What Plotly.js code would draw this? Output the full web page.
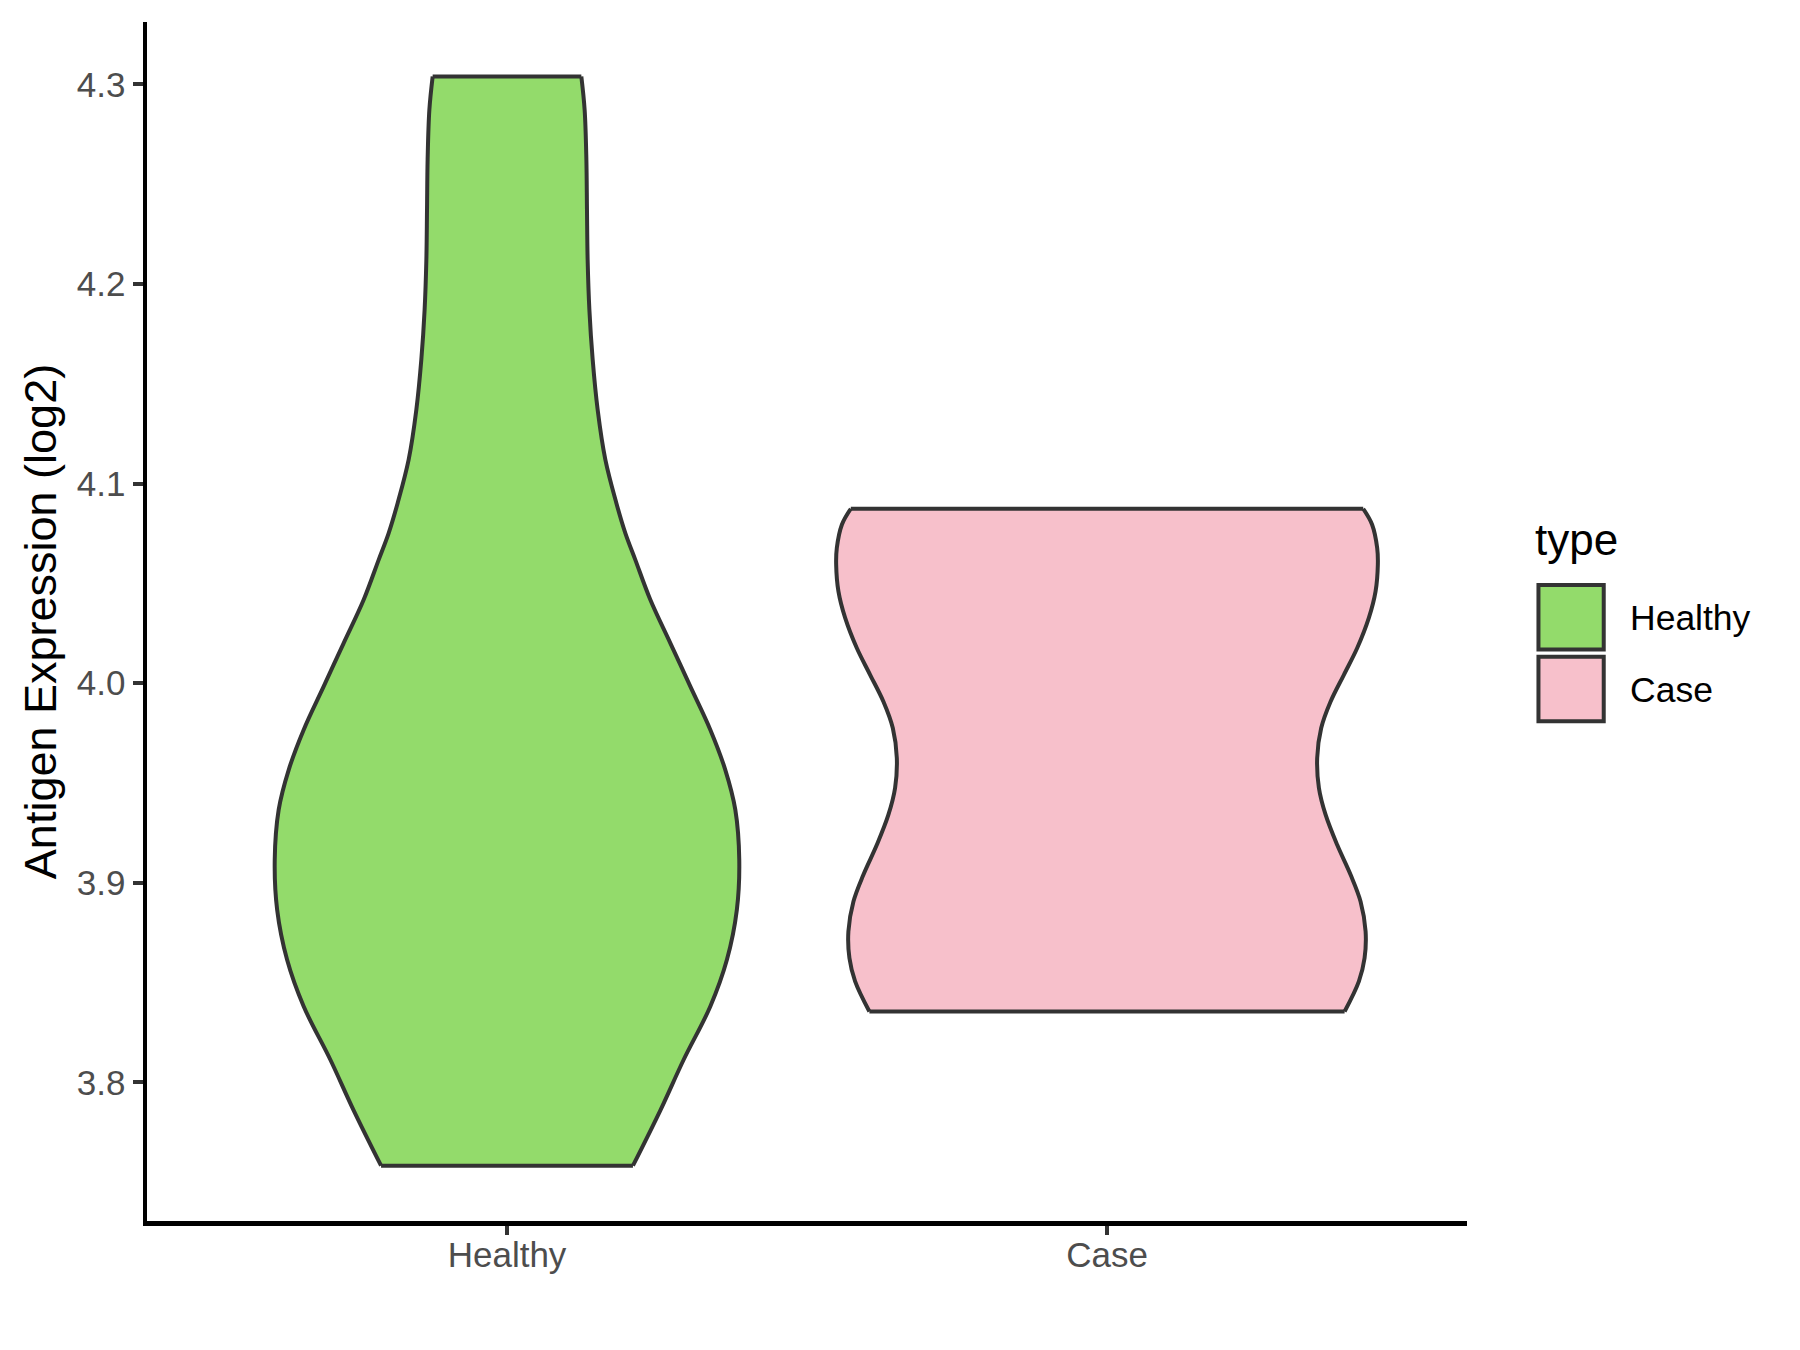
<!DOCTYPE html>
<html>
<head>
<meta charset="utf-8">
<script src="https://cdn.plot.ly/plotly-3.0.1.min.js"></script>
<style>
  html, body { margin: 0; padding: 0; background: #ffffff; }
  #chart { width: 1800px; height: 1350px; }
</style>
</head>
<body>
<div id="chart"></div>
<script>
// ---------- data ----------
const categories = ["Healthy", "Case"];
const legendTitle = "type";
const yTitle = "Antigen Expression (log2)";
const yTickValues = [3.8, 3.9, 4.0, 4.1, 4.2, 4.3];

// violin outline: expression value (top to bottom) and half-width (in category units)
const healthyValue = [4.304, 4.2873, 4.2623, 4.2372, 4.2122, 4.1872, 4.1621, 4.1370, 4.1120, 4.0903,
                      4.0752, 4.0618, 4.0418, 4.0201, 3.9984, 3.9767, 3.9566, 3.9366, 3.9115, 3.8865,
                      3.8614, 3.8380, 3.8113, 3.7862, 3.7582];
const healthyHalfWidth = [0.1239, 0.1294, 0.1323, 0.1333, 0.1344, 0.1373, 0.1428, 0.1511, 0.1639, 0.1822,
                          0.1972, 0.2139, 0.2389, 0.2722, 0.3055, 0.3388, 0.3638, 0.3805, 0.3871, 0.3831,
                          0.3665, 0.3388, 0.2944, 0.2560, 0.2099];

const caseValue = [4.0874, 4.0794, 4.0677, 4.0594, 4.0460, 4.0327, 4.0176, 4.0042, 3.9908, 3.9775,
                   3.9625, 3.9475, 3.9341, 3.9190, 3.9040, 3.8906, 3.8756, 3.8623, 3.8506, 3.8355];
const caseHalfWidth = [0.4270, 0.4419, 0.4503, 0.4514, 0.4476, 0.4364, 0.4170, 0.3948, 0.3727, 0.3570,
                       0.3503, 0.3532, 0.3643, 0.3836, 0.4060, 0.4226, 0.4310, 0.4293, 0.4198, 0.3960];

const fillColors = ["#93DB6B", "#F7C0CB"];

// ---------- build traces ----------
const outlineColor = "#333333";
const outlineWidth = 4;
const groups = [
  { values: healthyValue, half: healthyHalfWidth },
  { values: caseValue, half: caseHalfWidth }
];

const traces = [];
groups.forEach((g, i) => {
  const pos = i + 1;
  const left = g.half.map(h => pos - h);
  const right = g.half.map(h => pos + h);
  traces.push({
    type: "scatter", mode: "lines", x: left, y: g.values,
    line: { color: outlineColor, width: outlineWidth, shape: "spline", smoothing: 1 },
    showlegend: false, hoverinfo: "skip", name: categories[i]
  });
  traces.push({
    type: "scatter", mode: "lines", x: right, y: g.values,
    fill: "tonextx", fillcolor: fillColors[i],
    line: { color: outlineColor, width: outlineWidth, shape: "spline", smoothing: 1 },
    showlegend: false, hoverinfo: "skip", name: categories[i]
  });
  const n = g.values.length - 1;
  traces.push({
    type: "scatter", mode: "lines",
    x: [left[0], right[0], null, left[n], right[n]],
    y: [g.values[0], g.values[0], null, g.values[n], g.values[n]],
    line: { color: outlineColor, width: outlineWidth },
    connectgaps: false, showlegend: false, hoverinfo: "skip"
  });
});

// ---------- layout ----------
const M = { l: 146.5, r: 332.8, t: 22.2, b: 128.7 };
const W = 1800 - M.l - M.r, H = 1350 - M.t - M.b;
const px = x => (x - M.l) / W;
const py = y => (1350 - M.b - y) / H;

const shapes = [];
const annotations = [];
const font = "Liberation Sans, Arial, sans-serif";

annotations.push({
  xref: "paper", yref: "paper", x: px(1533), y: py(540), xanchor: "left", yanchor: "middle",
  text: legendTitle, showarrow: false, font: { family: font, size: 44, color: "#000000" }
});
categories.forEach((c, i) => {
  const top = 585.3 + i * 71.7, bot = top + 64.4;
  shapes.push({
    type: "rect", xref: "paper", yref: "paper",
    x0: px(1538.7), x1: px(1604), y0: py(bot), y1: py(top),
    fillcolor: fillColors[i], line: { color: outlineColor, width: 4 }
  });
  annotations.push({
    xref: "paper", yref: "paper", x: px(1628), y: py((top + bot) / 2 + 1), xanchor: "left", yanchor: "middle",
    text: c, showarrow: false, font: { family: font, size: 35.5, color: "#000000" }
  });
});

const layout = {
  width: 1800, height: 1350,
  margin: M,
  paper_bgcolor: "#ffffff", plot_bgcolor: "#ffffff",
  font: { family: font },
  showlegend: false,
  xaxis: {
    range: [0.4, 2.6], tickmode: "array", tickvals: categories.map((c, i) => i + 1), ticktext: categories,
    showgrid: false, zeroline: false, showline: true, linecolor: "#000000", linewidth: 4.5,
    ticks: "outside", ticklen: 9, tickwidth: 4, tickcolor: outlineColor, ticklabelstandoff: -10,
    tickfont: { family: font, size: 35, color: "#4D4D4D" }, fixedrange: true
  },
  yaxis: {
    range: [3.7305, 4.3313], tickmode: "array", tickvals: yTickValues,
    ticktext: yTickValues.map(v => v.toFixed(1)),
    showgrid: false, zeroline: false, showline: true, linecolor: "#000000", linewidth: 4.5,
    ticks: "outside", ticklen: 10, tickwidth: 4, tickcolor: outlineColor,
    tickfont: { family: font, size: 35, color: "#4D4D4D" }, fixedrange: true,
    title: { text: yTitle, font: { family: font, size: 45, color: "#000000" }, standoff: 7 }
  },
  shapes: shapes,
  annotations: annotations
};

Plotly.newPlot("chart", traces, layout, { staticPlot: true, displayModeBar: false });
</script>
</body>
</html>
